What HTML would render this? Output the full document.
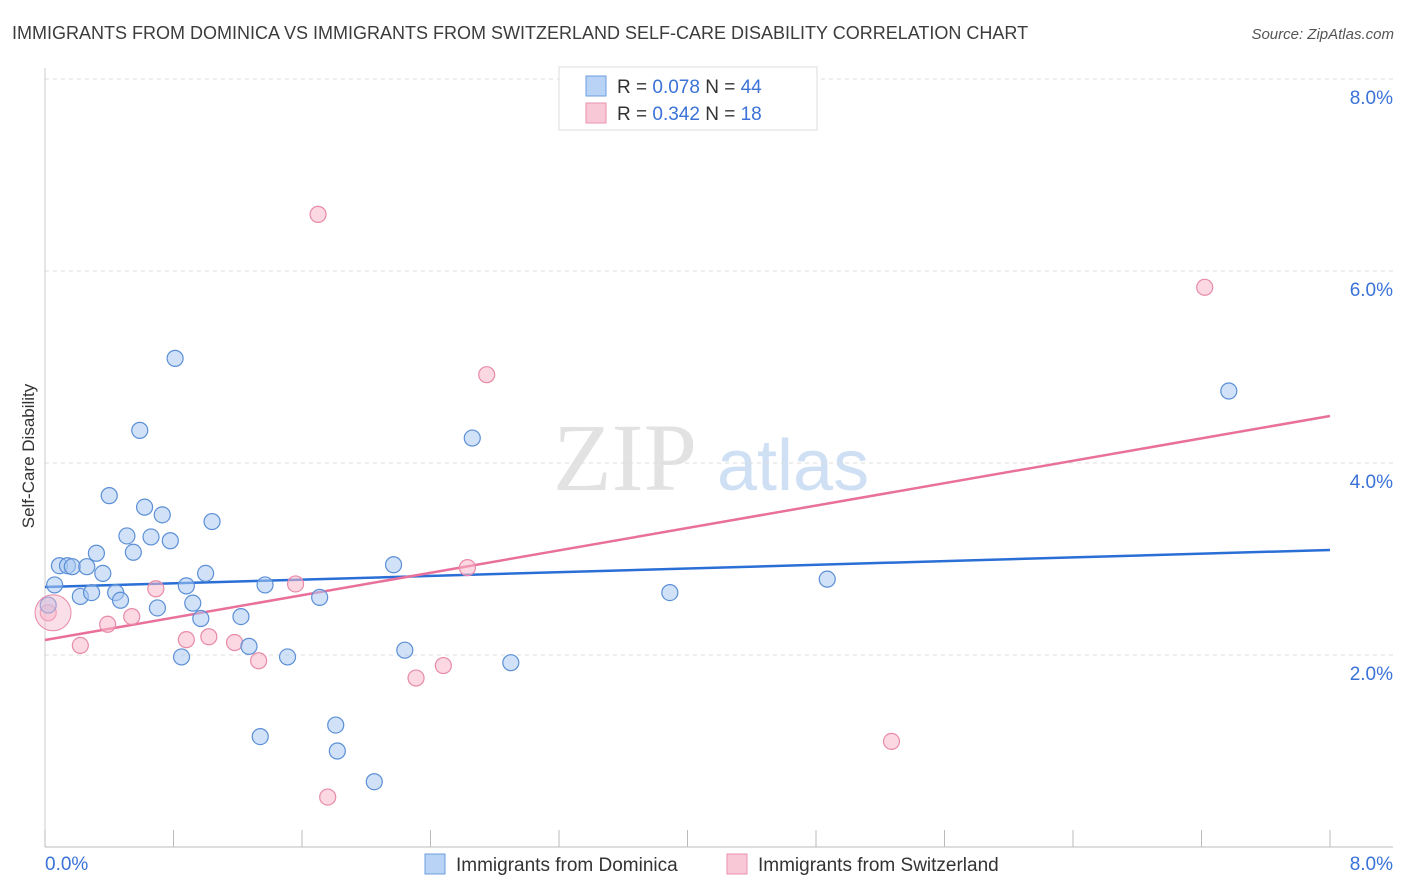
<!DOCTYPE html>
<html><head><meta charset="utf-8"><style>
body{margin:0;background:#fff;font-family:"Liberation Sans",sans-serif;}
svg{display:block}
</style></head><body>
<svg id="chart" width="1406" height="892">
<text x="12" y="39" font-size="18" fill="#3c3c3c">IMMIGRANTS FROM DOMINICA VS IMMIGRANTS FROM SWITZERLAND SELF-CARE DISABILITY CORRELATION CHART</text>
<text x="1394" y="39" font-size="15" fill="#555" font-style="italic" text-anchor="end">Source: ZipAtlas.com</text>
<text x="34" y="456" font-size="17" fill="#333" transform="rotate(-90 34 456)" text-anchor="middle">Self-Care Disability</text>
<g><text x="553" y="490" font-size="96" font-family="Liberation Serif,serif" fill="#e2e2e2">ZIP</text><text x="717" y="490" font-size="72" fill="#cfe0f5">atlas</text></g>
<g id="grid"></g><g id="lines"></g><g id="pts"></g>
<g>
<rect x="559" y="67" width="258" height="63" fill="#fff" stroke="#ddd"/>
<rect x="586" y="76" width="20" height="20" fill="#b8d3f5" stroke="#6d9ee0"/>
<rect x="586" y="103" width="20" height="20" fill="#f9c8d6" stroke="#ea92ae"/>
<text x="617" y="93" font-size="19" fill="#333">R = <tspan fill="#3a72d8">0.078</tspan>   N = <tspan fill="#3a72d8">44</tspan></text>
<text x="617" y="120" font-size="19" fill="#333">R = <tspan fill="#3a72d8">0.342</tspan>   N =  <tspan fill="#3a72d8">18</tspan></text>
</g>
<g>
<rect x="425" y="854" width="20" height="20" fill="#b8d3f5" stroke="#6d9ee0"/>
<text x="456" y="871" font-size="19" fill="#333">Immigrants from Dominica</text>
<rect x="727" y="854" width="20" height="20" fill="#f9c8d6" stroke="#ea92ae"/>
<text x="758" y="871" font-size="19" fill="#333">Immigrants from Switzerland</text>
</g>
</svg>
<script>
const blueX=[0.02,0.06,0.09,0.14,0.17,0.22,0.26,0.29,0.32,0.36,0.40,0.44,0.47,0.51,0.55,0.59,0.62,0.66,0.70,0.73,0.78,0.81,0.85,0.88,0.92,0.97,1.00,1.04,1.22,1.27,1.34,1.37,1.51,1.71,1.81,1.82,2.05,2.17,2.24,2.66,2.90,3.89,4.87,7.37];
const blueY=[2.52,2.73,2.93,2.93,2.92,2.61,2.92,2.65,3.06,2.85,3.66,2.65,2.57,3.24,3.07,4.34,3.54,3.23,2.49,3.46,3.19,5.09,1.98,2.72,2.54,2.38,2.85,3.39,2.40,2.09,1.15,2.73,1.98,2.60,1.27,1.00,0.68,2.94,2.05,4.26,1.92,2.65,2.79,4.75];
const pinkX=[0.02,0.22,0.39,0.54,0.69,0.88,1.02,1.18,1.33,1.56,1.70,1.76,2.31,2.48,2.63,2.75,5.27,7.22];
const pinkY=[2.44,2.10,2.32,2.40,2.69,2.16,2.19,2.13,1.94,2.74,6.59,0.52,1.76,1.89,2.91,4.92,1.10,5.83];
const blueTrend=[2.708,3.094];
const pinkTrend=[2.156,4.49];
const yTicks=[2,4,6,8];
const xTicks=[0,0.8,1.6,2.4,3.2,4,4.8,5.6,6.4,7.2,8];
const NS='http://www.w3.org/2000/svg';
const sx=v=>45+v*160.625, sy=v=>847-v*96;
function mk(tag,attrs,parent){const e=document.createElementNS(NS,tag);for(const k in attrs)e.setAttribute(k,attrs[k]);document.getElementById(parent).appendChild(e);return e;}
yTicks.forEach(t=>{
 const l=mk('line',{x1:45,x2:1393,y1:sy(t),y2:sy(t),stroke:'#ddd','stroke-dasharray':'4,4'},'grid');
 
 
 const tx=mk('text',{x:1393,y:sy(t)+25,'font-size':19,fill:'#3a72d8','text-anchor':'end'},'grid');
 tx.textContent=t.toFixed(1)+'%';
 
 
});
const ax=mk('line',{x1:45,x2:45,y1:68,y2:847,stroke:'#ccc'},'grid');


const bx=mk('line',{x1:45,x2:1393,y1:847,y2:847,stroke:'#bbb'},'grid');


xTicks.forEach(t=>{
 const l=mk('line',{x1:sx(t),x2:sx(t),y1:830,y2:847,stroke:'#bbb'},'grid');
 
 
});
[[0,'start'],[8,'end']].forEach(([t,a])=>{
 const tx=mk('text',{x:t===0?45:1393,y:870,'font-size':19,fill:'#3a72d8','text-anchor':a},'grid');
 tx.textContent=t.toFixed(1)+'%';
 
 
});
function pts(X,Y,fill,stroke,name){X.forEach((x,i)=>{
 const c=mk('circle',{cx:sx(x),cy:sy(Y[i]),r:8,fill:fill,'fill-opacity':0.55,stroke:stroke,'stroke-width':1.2},'pts');
 
 
});}
pts(pinkX,pinkY,'#f7b8cb','#e88aa8','point-switzerland');
pts(blueX,blueY,'#a9c8f2','#5b8fd6','point-dominica');
const big=mk('circle',{cx:sx(0.05),cy:sy(2.44),r:18,fill:'#f7b8cb','fill-opacity':0.45,stroke:'#e88aa8'},'pts');


const bl=mk('line',{x1:sx(0),y1:sy(blueTrend[0]),x2:sx(8),y2:sy(blueTrend[1]),stroke:'#2a6fd6','stroke-width':2.5},'lines');


const pl=mk('line',{x1:sx(0),y1:sy(pinkTrend[0]),x2:sx(8),y2:sy(pinkTrend[1]),stroke:'#e8709a','stroke-width':2.5},'lines');


</script>
</body></html>
